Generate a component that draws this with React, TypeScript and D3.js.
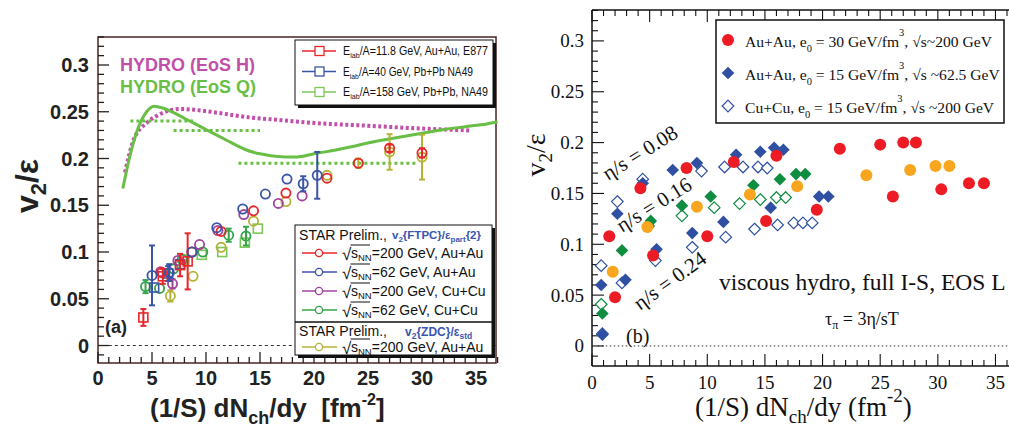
import React from 'react';
import * as d3 from 'd3';

// ---------------- Left panel data ----------------
const hydroQ: [number, number][] = [
  [2.3, 0.168], [3.0, 0.205], [3.7, 0.232], [4.5, 0.25], [5.2, 0.256], [6, 0.254], [7, 0.249],
  [8, 0.243], [9, 0.237], [10, 0.231], [11, 0.225], [12, 0.219], [13, 0.213], [14, 0.208],
  [15, 0.205], [16, 0.203], [17, 0.202], [18, 0.2015], [19, 0.2025], [20, 0.205], [22, 0.209],
  [24, 0.214], [26, 0.219], [28, 0.223], [30, 0.227], [32, 0.231], [34, 0.234], [36, 0.237], [37, 0.239],
];
const hydroH: [number, number][] = [
  [2.5, 0.185], [3.3, 0.22], [4.5, 0.238], [5.5, 0.246], [6.5, 0.251], [7.6, 0.253], [9, 0.252],
  [11, 0.249], [14, 0.244], [17, 0.241], [20, 0.238], [25, 0.235], [30, 0.232], [34.5, 0.230],
];
const qSteps = [
  { x0: 3.0, x1: 8.8, y: 0.240 },
  { x0: 7.0, x1: 15.0, y: 0.230 },
  { x0: 13.0, x1: 29.6, y: 0.195 },
];
type P = { x: number; y: number; e?: number };
const e877: P[] = [
  { x: 4.2, y: 0.030, e: 0.009 }, { x: 6.0, y: 0.074, e: 0.008 }, { x: 7.6, y: 0.086, e: 0.012 }, { x: 8.3, y: 0.090, e: 0.030 },
];
const na49_40: P[] = [
  { x: 5.2, y: 0.062 }, { x: 6.5, y: 0.077, e: 0.008 }, { x: 7.6, y: 0.087 },
];
const na49_158: P[] = [
  { x: 8.0, y: 0.092 }, { x: 9.6, y: 0.097 }, { x: 11.5, y: 0.100 }, { x: 13.6, y: 0.110 }, { x: 14.8, y: 0.125 },
];
const star200AuAu: P[] = [
  { x: 5.9, y: 0.078 }, { x: 8.7, y: 0.100 }, { x: 11.4, y: 0.122 }, { x: 14.4, y: 0.144 }, { x: 17.4, y: 0.163 },
  { x: 21.2, y: 0.179 }, { x: 24.1, y: 0.195 }, { x: 27.0, y: 0.211, e: 0.004 }, { x: 30.0, y: 0.206, e: 0.005 },
];
const star62AuAu: P[] = [
  { x: 5.0, y: 0.075, e: 0.032 }, { x: 6.6, y: 0.078, e: 0.009 }, { x: 8.7, y: 0.100 }, { x: 11.0, y: 0.126 },
  { x: 13.4, y: 0.146 }, { x: 15.5, y: 0.162 }, { x: 17.5, y: 0.178 }, { x: 19.0, y: 0.173, e: 0.008 }, { x: 20.3, y: 0.182, e: 0.025 },
];
const star200CuCu: P[] = [
  { x: 5.8, y: 0.079 }, { x: 6.9, y: 0.066, e: 0.005 }, { x: 7.4, y: 0.091 }, { x: 9.4, y: 0.108 },
  { x: 11.1, y: 0.123 }, { x: 13.5, y: 0.140 }, { x: 16.7, y: 0.152 }, { x: 18.9, y: 0.160 },
];
const star62CuCu: P[] = [
  { x: 4.4, y: 0.063, e: 0.007 }, { x: 5.7, y: 0.061 }, { x: 7.0, y: 0.082 }, { x: 7.8, y: 0.092 },
  { x: 9.7, y: 0.100 }, { x: 12.1, y: 0.118, e: 0.007 }, { x: 13.7, y: 0.117, e: 0.010 },
];
const starZDC: P[] = [
  { x: 6.7, y: 0.053, e: 0.006 }, { x: 8.8, y: 0.074 }, { x: 11.4, y: 0.105 }, { x: 14.4, y: 0.133 },
  { x: 17.4, y: 0.154 }, { x: 21.2, y: 0.182 }, { x: 24.1, y: 0.195, e: 0.005 }, { x: 27.0, y: 0.207, e: 0.019 }, { x: 30.0, y: 0.2015, e: 0.024 },
];
const leftXTicks = [0, 5, 10, 15, 20, 25, 30, 35];
const leftYTicks = [0, 0.05, 0.1, 0.15, 0.2, 0.25, 0.3];
const leftYTickLabels = ['0', '0.05', '0.1', '0.15', '0.2', '0.25', '0.3'];

// ---------------- Right panel data ----------------
const auau200_008: [number, number][] = [[1.5, 0.108], [4.2, 0.155], [8.2, 0.175], [12.3, 0.181], [16.0, 0.187], [21.5, 0.194], [25.0, 0.198], [27.0, 0.200], [28.1, 0.200]];
const auau200_016: [number, number][] = [[1.8, 0.073], [4.8, 0.117], [9.1, 0.137], [13.7, 0.149], [17.8, 0.157], [23.8, 0.168], [27.6, 0.173], [29.8, 0.177], [31.0, 0.177]];
const auau200_024: [number, number][] = [[2.0, 0.048], [5.3, 0.089], [10.0, 0.108], [15.1, 0.123], [19.5, 0.134], [26.1, 0.147], [30.3, 0.154], [32.7, 0.160], [34.0, 0.160]];
const auau62_008: [number, number][] = [[0.8, 0.060], [2.2, 0.130], [4.4, 0.160], [7.0, 0.173], [9.1, 0.180], [12.5, 0.188], [14.6, 0.191], [15.8, 0.195], [16.6, 0.193]];
const auau62_016: [number, number][] = [[0.9, 0.032], [2.6, 0.094], [5.1, 0.123], [7.8, 0.138], [10.3, 0.147], [14.0, 0.158], [16.3, 0.164], [17.7, 0.169], [18.5, 0.169]];
const auau62_024: [number, number][] = [[0.9, 0.011], [2.9, 0.065], [5.6, 0.095], [8.7, 0.111], [11.4, 0.122], [15.5, 0.136], [19.7, 0.147], [20.5, 0.147]];
const cucu_008: [number, number][] = [[0.8, 0.079], [2.2, 0.142], [4.4, 0.164], [9.5, 0.172], [11.5, 0.176], [13.1, 0.176], [14.4, 0.176], [15.2, 0.175]];
const cucu_016: [number, number][] = [[0.8, 0.041], [4.9, 0.118], [7.8, 0.128], [10.6, 0.136], [12.8, 0.140], [14.6, 0.144], [16.0, 0.146], [16.8, 0.146]];
const cucu_024: [number, number][] = [[0.9, 0.012], [2.6, 0.062], [5.5, 0.084], [8.7, 0.097], [11.6, 0.107], [14.1, 0.115], [16.1, 0.119], [17.5, 0.121], [18.3, 0.121], [19.1, 0.121]];
const rightXTicks = [0, 5, 10, 15, 20, 25, 30, 35];
const rightYTicks = [0, 0.05, 0.1, 0.15, 0.2, 0.25, 0.3];
const rightYTickLabels = ['0', '0.05', '0.1', '0.15', '0.2', '0.25', '0.3'];

// colors
const C = {
  red: '#e8262a', blue: '#3b54a5', mag: '#a3449b', grn: '#36a44a', lgrn: '#7cc657', olive: '#b5b337',
  hydroH: '#c250a8', hydroQ: '#69bf45', frame: '#4b2323',
  rRed: '#ed1c24', rOrange: '#f8a51f', rBlue: '#2f4fa2', rGreen: '#0e8c3f',
};

const SANS = 'Liberation Sans, Arial, Helvetica, sans-serif';
const SERIF = 'Liberation Serif, Times New Roman, serif';

function ticksRange(a: number, b: number, step: number) {
  const out: number[] = [];
  for (let v = a; v <= b + 1e-9; v += step) out.push(+v.toFixed(4));
  return out;
}

export default function App() {
  const xL = d3.scaleLinear().domain([0, 37]).range([98, 497.6]);
  const yL = d3.scaleLinear().domain([-0.0187, 0.33]).range([363, 36.95]);
  const xR = d3.scaleLinear().domain([0, 36]).range([592, 1007]);
  const yR = d3.scaleLinear().domain([-0.0197, 0.330]).range([366, 10.4]);

  const lineL = d3.line<[number, number]>().x(d => xL(d[0])).y(d => yL(d[1])).curve(d3.curveMonotoneX);

  const errBars = (pts: P[], color: string) =>
    pts.filter(p => p.e).map((p, i) => {
      const x = xL(p.x), y0 = yL(p.y - (p.e as number)), y1 = yL(p.y + (p.e as number));
      return (
        <g key={'e' + i} stroke={color} strokeWidth={2}>
          <line x1={x} x2={x} y1={y0} y2={y1} />
          <line x1={x - 3} x2={x + 3} y1={y0} y2={y0} />
          <line x1={x - 3} x2={x + 3} y1={y1} y2={y1} />
        </g>
      );
    });
  const circlesL = (pts: P[], color: string) => (
    <g>
      {errBars(pts, color)}
      {pts.map((p, i) => (
        <circle key={i} cx={xL(p.x)} cy={yL(p.y)} r={4.6} fill="none" stroke={color} strokeWidth={1.8} />
      ))}
    </g>
  );
  const squaresL = (pts: P[], color: string) => (
    <g>
      {errBars(pts, color)}
      {pts.map((p, i) => (
        <rect key={i} x={xL(p.x) - 4.5} y={yL(p.y) - 4.5} width={9} height={9} fill="none" stroke={color} strokeWidth={1.6} />
      ))}
    </g>
  );

  const diamond = (cx: number, cy: number, s: number) =>
    `M${cx},${cy - s}L${cx + s},${cy}L${cx},${cy + s}L${cx - s},${cy}Z`;

  const rCircles = (pts: [number, number][], color: string) =>
    pts.map((p, i) => <circle key={i} cx={xR(p[0])} cy={yR(p[1])} r={6} fill={color} />);
  const rDiamondsF = (pts: [number, number][], color: string) =>
    pts.map((p, i) => <path key={i} d={diamond(xR(p[0]), yR(p[1]), 6.3)} fill={color} />);
  const rDiamondsO = (pts: [number, number][], color: string) =>
    pts.map((p, i) => <path key={i} d={diamond(xR(p[0]), yR(p[1]), 5.8)} fill="white" stroke={color} strokeWidth={1.2} />);

  const lxMinor = ticksRange(0, 37, 1);
  const lyMinor = ticksRange(-0.01, 0.33, 0.01);
  const rxMinor = ticksRange(0, 36, 1);
  const ryMinor = ticksRange(-0.01, 0.33, 0.01);

  const legend1 = [
    { color: C.red, energy: '/A=11.8 GeV, Au+Au, E877', w: 145 },
    { color: C.blue, energy: '/A=40 GeV, Pb+Pb NA49', w: 130 },
    { color: C.lgrn, energy: '/A=158 GeV, Pb+Pb, NA49', w: 145 },
  ];
  const legend2 = [
    { color: C.red, t: '=200 GeV, Au+Au' },
    { color: C.blue, t: '=62 GeV, Au+Au' },
    { color: C.mag, t: '=200 GeV, Cu+Cu' },
    { color: C.grn, t: '=62 GeV, Cu+Cu' },
  ];
  const legendR = [
    { sys: 'Au+Au', e0: '30', rs: '~200 GeV' },
    { sys: 'Au+Au', e0: '15', rs: ' ~62.5 GeV' },
    { sys: 'Cu+Cu', e0: '15', rs: ' ~200 GeV' },
  ];

  const sqrtEntry = (y: number, color: string, t: string, key: string) => (
    <g key={key}>
      <line x1={302} x2={337} y1={y - 5} y2={y - 5} stroke={color} strokeWidth={1.3} />
      <circle cx={319} cy={y - 5} r={3.6} fill="white" stroke={color} strokeWidth={1.3} />
      <text x={342} y={y + 1.5} fontSize={17} fontFamily={SANS} fill="#111">√</text>
      <line x1={350.5} x2={370} y1={y - 13} y2={y - 13} stroke="#111" strokeWidth={1} />
      <text x={351} y={y} fontSize={14} fontFamily={SANS} fill="#111">
        s<tspan fontSize={9.5} dy={3}>NN</tspan><tspan dy={-3}>{t}</tspan>
      </text>
    </g>
  );

  return (
    <svg width={1009} height={435} style={{ position: 'absolute', left: 0, top: 0, background: 'white' }}>
      <rect x={0} y={0} width={1009} height={435} fill="white" />
      {/* ================= LEFT PANEL ================= */}
      <g>
        <rect x={98} y={37} width={398} height={326} fill="none" stroke={C.frame} strokeWidth={1.5} />
        {lyMinor.map((v, i) => {
          const major = Math.abs(Math.round(v * 100) % 5) === 0;
          return <line key={i} x1={98} x2={98 + (major ? 11 : 6)} y1={yL(v)} y2={yL(v)} stroke="#222" strokeWidth={1.3} />;
        })}
        {lxMinor.map((v, i) => {
          const major = v % 5 === 0;
          return <line key={i} x1={xL(v)} x2={xL(v)} y1={363} y2={363 - (major ? 11 : 6)} stroke="#222" strokeWidth={1.3} />;
        })}
        {leftYTicks.map((v, i) => (
          <text key={i} x={89} y={yL(v) + 7} textAnchor="end" fontSize={20} fontWeight="bold" fontFamily={SANS} fill="#222">{leftYTickLabels[i]}</text>
        ))}
        {leftXTicks.map((v, i) => (
          <text key={i} x={xL(v)} y={385} textAnchor="middle" fontSize={20} fontWeight="bold" fontFamily={SANS} fill="#222">{v}</text>
        ))}
        <text transform="translate(38,186) rotate(-90)" textAnchor="middle" fontSize={32} fontWeight="bold" fontFamily={SANS} fill="#222">
          v<tspan fontSize={22} dy={8}>2</tspan><tspan dy={-8}>/ε</tspan>
        </text>
        <text x={150} y={417} fontSize={26} fontWeight="bold" fontFamily={SANS} fill="#222">
          (1/S) dN<tspan fontSize={18} dy={7}>ch</tspan><tspan dy={-7}>{'/dy\u00a0\u00a0[fm'}</tspan><tspan fontSize={16} dy={-12}>-2</tspan><tspan dy={12}>]</tspan>
        </text>
        <line x1={xL(1)} x2={xL(37)} y1={yL(0)} y2={yL(0)} stroke="#333" strokeWidth={1} strokeDasharray="3,3" />
        <path d={lineL(hydroH) || ''} fill="none" stroke={C.hydroH} strokeWidth={4} strokeDasharray="3,2.5" />
        <path d={lineL(hydroQ) || ''} fill="none" stroke={C.hydroQ} strokeWidth={3} />
        {qSteps.map((s, i) => (
          <line key={i} x1={xL(s.x0)} x2={xL(s.x1)} y1={yL(s.y)} y2={yL(s.y)} stroke={C.hydroQ} strokeWidth={3} strokeDasharray="3,3" />
        ))}
        <text x={120} y={71} fontSize={18} fontWeight="bold" fontFamily={SANS} fill={C.hydroH}>HYDRO (EoS H)</text>
        <text x={120} y={93} fontSize={18} fontWeight="bold" fontFamily={SANS} fill={C.hydroQ}>HYDRO (EoS Q)</text>
        {squaresL(na49_158, C.lgrn)}
        {circlesL(starZDC, C.olive)}
        {circlesL(star62CuCu, C.grn)}
        {circlesL(star200CuCu, C.mag)}
        {squaresL(na49_40, C.blue)}
        {squaresL(e877, C.red)}
        {circlesL(star200AuAu, C.red)}
        {circlesL(star62AuAu, C.blue)}
        <text x={105} y={333} fontSize={18} fontWeight="bold" fontFamily={SANS} fill="#222">(a)</text>

        {/* legend 1 */}
        <rect x={298} y={43} width={198} height={65} fill="#111" />
        <rect x={295} y={40} width={198} height={65} fill="white" stroke="#111" strokeWidth={1} />
        {legend1.map((l, i) => {
          const y = 55 + i * 20.5;
          return (
            <g key={i}>
              <line x1={302} x2={336} y1={y - 4} y2={y - 4} stroke={l.color} strokeWidth={1.3} />
              <rect x={315} y={y - 8.5} width={9} height={9} fill="white" stroke={l.color} strokeWidth={1.3} />
              <text x={343} y={y} fontSize={12} fontFamily={SANS} fill="#111" textLength={l.w} lengthAdjust="spacingAndGlyphs">
                E<tspan fontSize={8} dy={3}>lab</tspan><tspan dy={-3}>{l.energy}</tspan>
              </text>
            </g>
          );
        })}

        {/* legend 2 */}
        <rect x={298} y={228} width={197} height={130} fill="#111" />
        <rect x={295} y={225} width={197} height={130} fill="white" stroke="#111" strokeWidth={1} />
        <line x1={295} x2={492} y1={322} y2={322} stroke="#111" strokeWidth={1.5} />
        <text x={299} y={240} fontSize={15} fontFamily={SANS} fill="#111" textLength={88} lengthAdjust="spacingAndGlyphs">STAR Prelim.,</text>
        <text x={392} y={239} fontSize={11.5} fontWeight="bold" fontFamily={SANS} fill="#3a55b0">
          v<tspan fontSize={8} dy={3}>2</tspan><tspan dy={-3}>{'{FTPC}/ε'}</tspan><tspan fontSize={8} dy={3}>part</tspan><tspan dy={-3}>{'{2}'}</tspan>
        </text>
        {legend2.map((l, i) => sqrtEntry(258 + i * 19, l.color, l.t, 'l2' + i))}
        <text x={299} y={336} fontSize={15} fontFamily={SANS} fill="#111" textLength={88} lengthAdjust="spacingAndGlyphs">STAR Prelim.,</text>
        <text x={405} y={336} fontSize={12} fontWeight="bold" fontFamily={SANS} fill="#3a55b0">
          v<tspan fontSize={8.5} dy={3}>2</tspan><tspan dy={-3}>{'{ZDC}/ε'}</tspan><tspan fontSize={8.5} dy={3}>std</tspan>
        </text>
        {sqrtEntry(352, C.olive, '=200 GeV, Au+Au', 'l2z')}
      </g>

      {/* ================= RIGHT PANEL ================= */}
      <g>
        <line x1={592} x2={592} y1={10} y2={366} stroke="#111" strokeWidth={1.5} />
        <line x1={592} x2={1009} y1={366} y2={366} stroke="#111" strokeWidth={1.5} />
        <line x1={592} x2={1009} y1={10} y2={10} stroke="#111" strokeWidth={1.5} />
        {ryMinor.map((v, i) => {
          const major = Math.abs(Math.round(v * 100) % 5) === 0;
          return <line key={i} x1={592} x2={592 + (major ? 12 : 6)} y1={yR(v)} y2={yR(v)} stroke="#111" strokeWidth={1.1} />;
        })}
        {rxMinor.map((v, i) => {
          const major = v % 5 === 0;
          const l = major ? 12 : 6;
          return (
            <g key={i}>
              <line x1={xR(v)} x2={xR(v)} y1={366} y2={366 - l} stroke="#111" strokeWidth={1.1} />
              <line x1={xR(v)} x2={xR(v)} y1={10} y2={10 + l} stroke="#111" strokeWidth={1.1} />
            </g>
          );
        })}
        {rightYTicks.map((v, i) => (
          <text key={i} x={584} y={yR(v) + 6.5} textAnchor="end" fontSize={19} fontFamily={SERIF} fill="#111">{rightYTickLabels[i]}</text>
        ))}
        {rightXTicks.map((v, i) => (
          <text key={i} x={xR(v)} y={389} textAnchor="middle" fontSize={19} fontFamily={SERIF} fill="#111">{v}</text>
        ))}
        <text transform="translate(545,155) rotate(-90)" textAnchor="middle" fontSize={28} fontFamily={SERIF} fill="#111">
          v<tspan fontSize={19} dy={7}>2</tspan><tspan dy={-7}>/ε</tspan>
        </text>
        <text x={695} y={416} fontSize={27} fontFamily={SERIF} fill="#111">
          (1/S) dN<tspan fontSize={19} dy={7}>ch</tspan><tspan dy={-7}>/dy (fm</tspan><tspan fontSize={19} dy={-14}>-2</tspan><tspan dy={14}>)</tspan>
        </text>
        <line x1={xR(0.5)} x2={1009} y1={yR(0)} y2={yR(0)} stroke="#333" strokeWidth={1} strokeDasharray="1.5,2.5" />

        {rDiamondsO(cucu_024, C.rBlue)}
        {rDiamondsO(cucu_016, C.rGreen)}
        {rDiamondsO(cucu_008, C.rBlue)}
        {rDiamondsF(auau62_024, C.rBlue)}
        {rDiamondsF(auau62_016, C.rGreen)}
        {rDiamondsF(auau62_008, C.rBlue)}
        {rCircles(auau200_024, C.rRed)}
        {rCircles(auau200_016, C.rOrange)}
        {rCircles(auau200_008, C.rRed)}

        <text transform="translate(608,181) rotate(-32)" fontSize={21} fontFamily={SERIF} fill="#111">η/s = 0.08</text>
        <text transform="translate(622,233) rotate(-32)" fontSize={21} fontFamily={SERIF} fill="#111">η/s = 0.16</text>
        <text transform="translate(640,311) rotate(-36)" fontSize={21} fontFamily={SERIF} fill="#111">η/s = 0.24</text>
        <text x={719} y={290} fontSize={23.5} fontFamily={SERIF} fill="#111">viscous hydro, full I-S, EOS L</text>
        <text x={825} y={325} fontSize={18} fontFamily={SERIF} fill="#111">
          τ<tspan fontSize={12} dy={4}>π</tspan><tspan dy={-4}> = 3η/sT</tspan>
        </text>
        <text x={626} y={343} fontSize={20} fontFamily={SERIF} fill="#111">(b)</text>

        <rect x={716} y={20} width={288} height={103} fill="white" stroke="#111" strokeWidth={1.5} />
        <circle cx={728} cy={40} r={6} fill={C.rRed} />
        <path d={diamond(728, 73, 6.3)} fill={C.rBlue} />
        <path d={diamond(728, 106, 5.8)} fill="white" stroke={C.rBlue} strokeWidth={1.2} />
        {legendR.map((l, i) => (
          <text key={i} x={745} y={47 + i * 33} fontSize={15.6} fontFamily={SERIF} fill="#111">
            {l.sys}, e<tspan fontSize={10.5} dy={5}>0</tspan><tspan dy={-5}>{` = ${l.e0} GeV/fm`}</tspan><tspan fontSize={10.5} dy={-11}>3</tspan><tspan dy={11}>{`, √s${l.rs}`}</tspan>
          </text>
        ))}
      </g>
    </svg>
  );
}
